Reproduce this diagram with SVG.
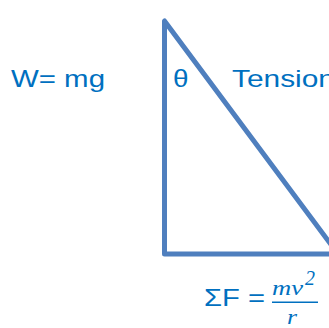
<svg xmlns="http://www.w3.org/2000/svg" width="329" height="328" viewBox="0 0 329 328">
<style>
.t{font-family:"Liberation Sans",Arial,sans-serif;font-size:24.5px;fill:#0070C0}
.m{font-family:"Liberation Serif","Times New Roman",serif;font-style:italic;font-size:22px;fill:#0070C0}
.tri{fill:none;stroke:#4F7FBE;stroke-width:5;stroke-linejoin:round}
</style>
<rect width="329" height="328" fill="#FFFFFF"/>
<g id="triangle">
<path class="tri" d="M164.5,21 L164.5,254 L338,254 Z"/>
</g>
<g id="labels">
<text class="t" x="11" y="87" textLength="94" lengthAdjust="spacingAndGlyphs">W= mg</text>
<text class="t" x="173" y="87" textLength="15.5" lengthAdjust="spacingAndGlyphs">θ</text>
<text class="t" x="232" y="87" textLength="103" lengthAdjust="spacingAndGlyphs">Tension</text>
</g>
<g id="formula">
<text class="t" x="204" y="306" textLength="61" lengthAdjust="spacingAndGlyphs">ΣF =</text>
<text class="m" x="272" y="295" textLength="31" lengthAdjust="spacingAndGlyphs">mv</text>
<text class="m" x="305" y="285" font-size="15" textLength="10" lengthAdjust="spacingAndGlyphs">2</text>
<line x1="272" y1="302.3" x2="318" y2="302.3" stroke="#0070C0" stroke-width="1.5"/>
<text class="m" x="287" y="324" textLength="10" lengthAdjust="spacingAndGlyphs">r</text>
</g>
</svg>
